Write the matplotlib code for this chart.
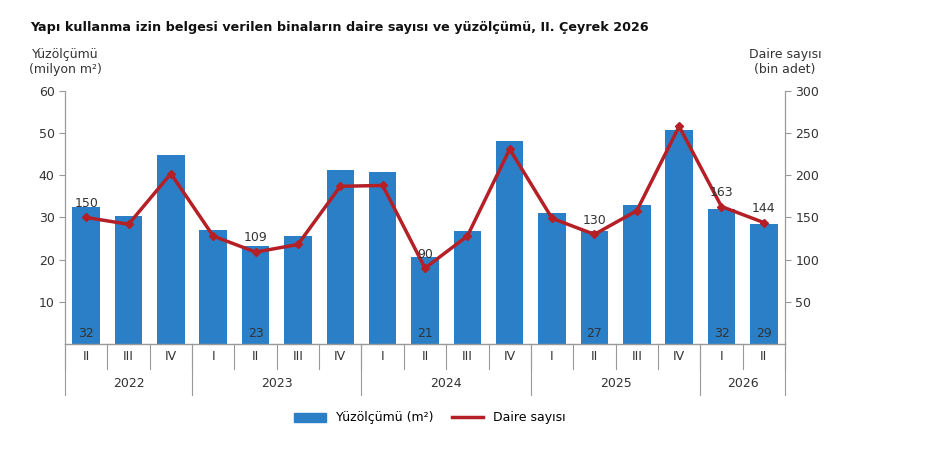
import matplotlib.pyplot as plt
import numpy as np
from matplotlib.patches import Patch
from matplotlib.lines import Line2D

quarters = ['II', 'III', 'IV', 'I', 'II', 'III', 'IV', 'I', 'II', 'III', 'IV', 'I', 'II', 'III', 'IV', 'I', 'II']
years = ['2022', '2023', '2024', '2025', '2026']
year_counts = [3, 4, 4, 4, 2]
area = [32.4, 30.3, 44.8, 27.0, 23.2, 25.6, 41.2, 40.8, 20.6, 26.8, 48.1, 31.0, 26.8, 33.0, 50.7, 32.0, 28.5]
area_labels = {0: '32', 4: '23', 8: '21', 12: '27', 15: '32', 16: '29'}
units = [150, 142, 202, 128, 109, 118, 187, 188, 90, 128, 231, 149, 130, 158, 258, 163, 144]
unit_labels = {0: '150', 4: '109', 8: '90', 12: '130', 15: '163', 16: '144'}

blue = '#2a7fc6'
red = '#b52026'

fig = plt.figure(figsize=(9.51, 4.62), dpi=100)
ax = fig.add_axes([65 / 951, 1 - 344 / 462, 720 / 951, 253 / 462])
ax2 = ax.twinx()
x = np.arange(len(quarters))

ax.bar(x, area, width=0.65, color=blue, zorder=2)
ax.set_ylim(0, 60)
ax.set_xlim(-0.5, len(x) - 0.5)
ax.set_yticks([10, 20, 30, 40, 50, 60])
ax2.plot(x, units, color=red, lw=2.5, marker='D', ms=4, zorder=3)
ax2.set_ylim(0, 300)
ax2.set_yticks([50, 100, 150, 200, 250, 300])

for a in (ax, ax2):
    for s in ['top', 'bottom']:
        a.spines[s].set_visible(False)
    a.spines['left'].set_color('#999999')
    a.spines['right'].set_color('#999999')
    a.tick_params(axis='y', labelsize=9, length=4, color='#999999', colors='#333333')
ax.axhline(0, color='#999999', lw=1, clip_on=False)
ax.set_xticks([])

for i, t in area_labels.items():
    ax.text(i, 2.5, t, ha='center', va='center', fontsize=9, color='#333333')
for i, t in unit_labels.items():
    ax2.text(i, units[i] + 9, t, ha='center', va='bottom', fontsize=9, color='#333333')

# category and year rows below the axis
tr = ax.get_xaxis_transform()
for i, q in enumerate(quarters):
    ax.text(i, -0.05, q, transform=tr, ha='center', va='center', fontsize=9, color='#333333')
for i in range(len(quarters) + 1):
    ax.plot([i - 0.5, i - 0.5], [0, -0.1], transform=tr, color='#999999', lw=0.8, clip_on=False)
start = 0
for y, n in zip(years, year_counts):
    ax.text(start + n / 2 - 0.5, -0.155, y, transform=tr, ha='center', va='center', fontsize=9, color='#333333')
    ax.plot([start - 0.5, start - 0.5], [0, -0.2], transform=tr, color='#999999', lw=0.8, clip_on=False)
    start += n
ax.plot([start - 0.5, start - 0.5], [0, -0.2], transform=tr, color='#999999', lw=0.8, clip_on=False)

fig.text(30 / 951, 1 - 28 / 462, 'Yapı kullanma izin belgesi verilen binaların daire sayısı ve yüzölçümü, II. Çeyrek 2026',
         fontsize=9.2, fontweight='bold', va='center', color='#111111')
fig.text(65 / 951, 1 - 62 / 462, 'Yüzölçümü\n(milyon m²)', fontsize=9, ha='center', va='center', color='#333333')
fig.text(785 / 951, 1 - 62 / 462, 'Daire sayısı\n(bin adet)', fontsize=9, ha='center', va='center', color='#333333')

handles = [Patch(color=blue), Line2D([], [], color=red, lw=2.5)]
fig.legend(handles, ['Yüzölçümü (m²)', 'Daire sayısı'], loc='center', bbox_to_anchor=(430 / 951, 1 - 418 / 462),
           ncol=2, frameon=False, fontsize=9, handlelength=2.5, columnspacing=1.5)

fig.savefig('out.png', dpi=100)
